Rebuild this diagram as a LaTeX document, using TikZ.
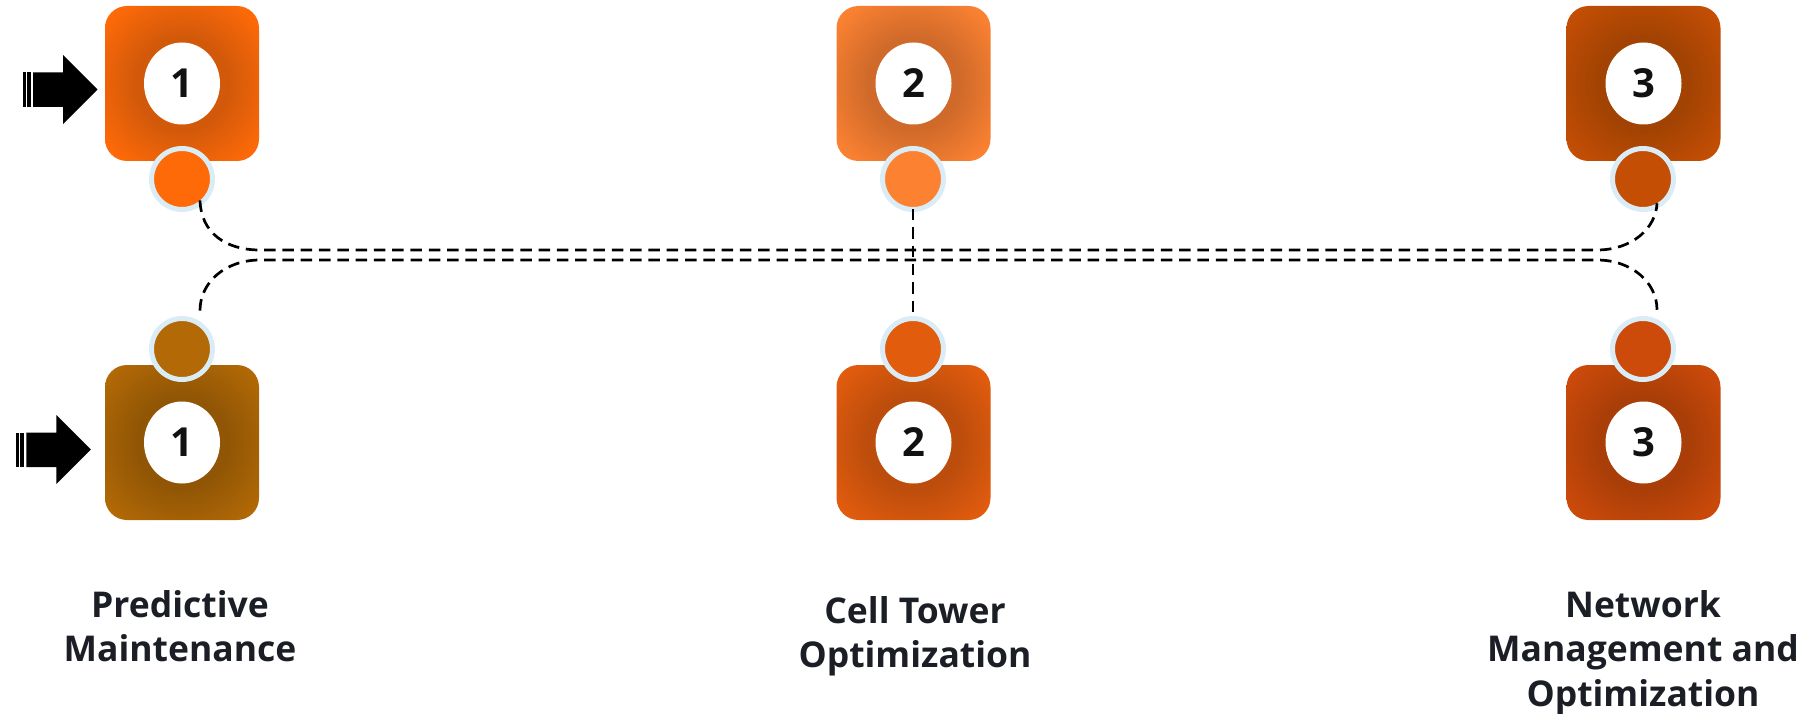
\documentclass[tikz,border=0pt]{standalone}
\usepackage{fontspec}
\setmainfont{Open Sans}
\usetikzlibrary{shapes.geometric}

% tile colours: edge tone and the darker tone around the badge
\definecolor{orA}{HTML}{FF6A08}\definecolor{orAin}{HTML}{D2590A}
\definecolor{orB}{HTML}{FC8232}\definecolor{orBin}{HTML}{D06A2A}
\definecolor{orC}{HTML}{C44E04}\definecolor{orCin}{HTML}{A24303}
\definecolor{orD}{HTML}{B26906}\definecolor{orDin}{HTML}{915605}
\definecolor{orE}{HTML}{E25C0E}\definecolor{orEin}{HTML}{BC4D0C}
\definecolor{orF}{HTML}{CC4A0A}\definecolor{orFin}{HTML}{A93E08}
\definecolor{ringblue}{HTML}{DAEDF6}
\definecolor{numink}{HTML}{111111}
\definecolor{capink}{HTML}{1B1E25}

\pgfdeclareradialshading{glowA}{\pgfpoint{0bp}{0bp}}{color(0bp)=(orAin); color(15bp)=(orAin); color(32bp)=(orA); color(50bp)=(orA)}
\pgfdeclareradialshading{glowB}{\pgfpoint{0bp}{0bp}}{color(0bp)=(orBin); color(15bp)=(orBin); color(32bp)=(orB); color(50bp)=(orB)}
\pgfdeclareradialshading{glowC}{\pgfpoint{0bp}{0bp}}{color(0bp)=(orCin); color(15bp)=(orCin); color(32bp)=(orC); color(50bp)=(orC)}
\pgfdeclareradialshading{glowD}{\pgfpoint{0bp}{0bp}}{color(0bp)=(orDin); color(15bp)=(orDin); color(32bp)=(orD); color(50bp)=(orD)}
\pgfdeclareradialshading{glowE}{\pgfpoint{0bp}{0bp}}{color(0bp)=(orEin); color(15bp)=(orEin); color(32bp)=(orE); color(50bp)=(orE)}
\pgfdeclareradialshading{glowF}{\pgfpoint{0bp}{0bp}}{color(0bp)=(orFin); color(15bp)=(orFin); color(32bp)=(orF); color(50bp)=(orF)}

\tikzset{
  tile/.style={rectangle, rounded corners=22pt, minimum width=154pt, minimum height=155pt, inner sep=0pt},
  badge/.style={ellipse, fill=white, minimum width=76pt, minimum height=82pt, inner sep=0pt,
    font=\fontsize{40}{40}\selectfont\bfseries, text=numink},
  knob/.style={circle, minimum size=61pt, line width=5pt, draw=ringblue, inner sep=0pt, outer sep=-2.5pt},
  link/.style={draw=black, line width=2.7pt, dash pattern=on 11.5pt off 6.8pt},
  caption/.style={align=center, font=\fontsize{35.5}{44.5}\selectfont\bfseries, text=capink,
    inner sep=0pt, anchor=north},
  % striped block arrow, origin at its tip
  pics/feedarrow/.style={code={
    \fill[black] (-64.4,-17) -- (-34.4,-17) -- (-34.4,-34.5) -- (0,0) -- (-34.4,34.5)
      -- (-34.4,17.5) -- (-64.4,17.5) -- cycle;
    \fill[black] (-75,-17) rectangle (-71.7,17.5);
    \fill[black] (-70.4,-17) rectangle (-67,17.5);
  }}
}

\begin{document}
\begin{tikzpicture}[x=1pt,y=-1pt]
\useasboundingbox (0,0) rectangle (1820,714);

% upper row of tiles
\node[tile, shading=glowA] (b1t) at (182,83.5) {};
\node[tile, shading=glowB] (b2t) at (913.5,83.5) {};
\node[tile, shading=glowC] (b3t) at (1643.5,83.5) {};
\node[badge] (n1t) at (b1t) {1};
\node[badge] (n2t) at (b2t) {2};
\node[badge] (n3t) at (b3t) {3};

% lower row of tiles
\node[tile, shading=glowD] (b1b) at (182,442.5) {};
\node[tile, shading=glowE] (b2b) at (913.5,442.5) {};
\node[tile, shading=glowF] (b3b) at (1643.5,442.5) {};
\node[badge] (n1b) at (b1b) {1};
\node[badge] (n2b) at (b2b) {2};
\node[badge] (n3b) at (b3b) {3};

% connection knobs
\node[knob, fill=orA] (c1t) at (182,179) {};
\node[knob, fill=orB] (c2t) at (913,179) {};
\node[knob, fill=orC] (c3t) at (1643,179) {};
\node[knob, fill=orD] (c1b) at (182,349) {};
\node[knob, fill=orE] (c2b) at (913,349) {};
\node[knob, fill=orF] (c3b) at (1643,349) {};

% entry arrows
\pic at ([shift={(-7.3,6)}]b1t.west) {feedarrow};
\pic at ([shift={(-14,7)}]b1b.west) {feedarrow};

% dashed links
\coordinate (jL1) at (260,250);
\coordinate (jR1) at (1597,250);
\coordinate (jL2) at (260,260);
\coordinate (jR2) at (1597,260);
\draw[link] (c1t.-50) .. controls +(1,32) and +(-35,0) .. (jL1) -- (jR1)
  .. controls +(35,0) and +(-1,25) .. (c3t.-60);
\draw[link, shorten <=17pt, shorten >=15pt] (c1b.50) .. controls +(0,-45) and +(-35,0) .. (jL2)
  -- (jR2) .. controls +(35,0) and +(0,-42) .. (c3b.60);
\draw[link, shorten <=2pt, shorten >=5pt] (c2t.south) -- (c2b.north);

% captions
\node[caption] (l1) at (180,590) {Predictive\\Maintenance};
\node[caption] (l2) at (915,596) {Cell Tower\\Optimization};
\node[caption] (l3) at (1643,590) {Network\\Management and\\Optimization};
\end{tikzpicture}
\end{document}
